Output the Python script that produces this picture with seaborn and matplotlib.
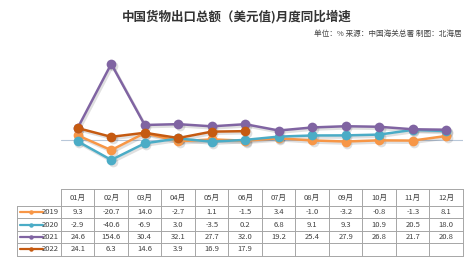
import matplotlib
matplotlib.use("Agg")
import matplotlib.pyplot as plt
import matplotlib.transforms as mtransforms
from matplotlib.lines import Line2D
import numpy as np
import pandas as pd
import seaborn as sns

MONTHS = ["01月", "02月", "03月", "04月", "05月", "06月",
          "07月", "08月", "09月", "10月", "11月", "12月"]
YEARS = ["2019", "2020", "2021", "2022"]
Y2019 = [9.3, -20.7, 14.0, -2.7, 1.1, -1.5, 3.4, -1.0, -3.2, -0.8, -1.3, 8.1]
Y2020 = [-2.9, -40.6, -6.9, 3.0, -3.5, 0.2, 6.8, 9.1, 9.3, 10.9, 20.5, 18.0]
Y2021 = [24.6, 154.6, 30.4, 32.1, 27.7, 32.0, 19.2, 25.4, 27.9, 26.8, 21.7, 20.8]
Y2022 = [24.1, 6.3, 14.6, 3.9, 16.9, 17.9, None, None, None, None, None, None]
COLORS = {"2019": "#F79646", "2020": "#4BACC6", "2021": "#8064A2", "2022": "#C55A11"}

series = dict(zip(YEARS, [Y2019, Y2020, Y2021, Y2022]))
df = pd.DataFrame([{"year": y, "m": i, "v": v}
                   for y, vals in series.items() for i, v in enumerate(vals)])
df["v"] = pd.to_numeric(df["v"])

sns.set_theme(style="white")
plt.rcParams["font.family"] = ["Noto Sans CJK SC", "DejaVu Sans"]

W, H = 474, 263
fig = plt.figure(figsize=(W / 100, H / 100), dpi=100)

# plot area in pixel coords: x 61..463, y 45..180
ax = fig.add_axes([61 / W, 1 - 180 / H, 402 / W, 135 / H])
ax.axhline(0, color="#B8C7D9", lw=0.8, zorder=1)
shift = ax.transData + mtransforms.ScaledTranslation(1.5 / 100, -2 / 100, fig.dpi_scale_trans)
for y in YEARS:
    sub = df[(df["year"] == y)].dropna()
    # soft drop shadow under each series
    sns.lineplot(data=sub, x="m", y="v", ax=ax, color="#000000", alpha=0.12, lw=2,
                 marker="o", markersize=7, markeredgewidth=0, sort=False,
                 legend=False, zorder=2, transform=shift)
    sns.lineplot(data=sub, x="m", y="v", ax=ax, color=COLORS[y], lw=1.8,
                 marker="o", markersize=7, markeredgewidth=0, sort=False,
                 legend=False, zorder=3)
ax.set_xlim(-0.5, 11.5)
ax.set_ylim(-81.4, 193)
ax.set_axis_off()

# title
fig.text(237 / W, 1 - 17 / H, "中国货物出口总额（美元值)月度同比增速",
         ha="center", va="center", fontsize=9, fontweight="bold", color="#333333")
fig.text(462 / W, 1 - 34 / H, "单位：% 来源：中国海关总署 制图：北海居",
         ha="right", va="center", fontsize=5.5, style="italic", color="#444444")

# table
tx0, tlab, tx1 = 17, 61, 463
ty0, hh, rh = 189, 17, 12.4
tab = fig.add_axes([0, 0, 1, 1])
tab.set_xlim(0, W)
tab.set_ylim(H, 0)
tab.set_axis_off()
cw = (tx1 - tlab) / 12
bot = ty0 + hh + rh * 4
lc = "#A6A6A6"
tab.plot([tlab, tx1], [ty0, ty0], color=lc, lw=0.7)
for r in range(5):
    yy = ty0 + hh + rh * r
    tab.plot([tx0, tx1], [yy, yy], color=lc, lw=0.7)
tab.plot([tx0, tx0], [ty0 + hh, bot], color=lc, lw=0.7)
for c in range(13):
    xx = tlab + cw * c
    tab.plot([xx, xx], [ty0, bot], color=lc, lw=0.7)
for c, m in enumerate(MONTHS):
    tab.text(tlab + cw * (c + 0.5), ty0 + hh / 2, m, ha="center", va="center",
             fontsize=5.5, color="#404040")
for r, y in enumerate(YEARS):
    yc = ty0 + hh + rh * (r + 0.5)
    tab.add_line(Line2D([20, 43], [yc, yc], color=COLORS[y], lw=1.6))
    tab.plot([31.5], [yc], marker="o", ms=2.2, color=COLORS[y])
    tab.text(59, yc, y, ha="right", va="center", fontsize=5.5, color="#404040")
    for c, v in enumerate(series[y]):
        if v is None:
            continue
        tab.text(tlab + cw * (c + 0.5), yc, f"{v:.1f}", ha="center", va="center",
                 fontsize=5.5, color="#404040")

fig.savefig("out.png", dpi=100)
